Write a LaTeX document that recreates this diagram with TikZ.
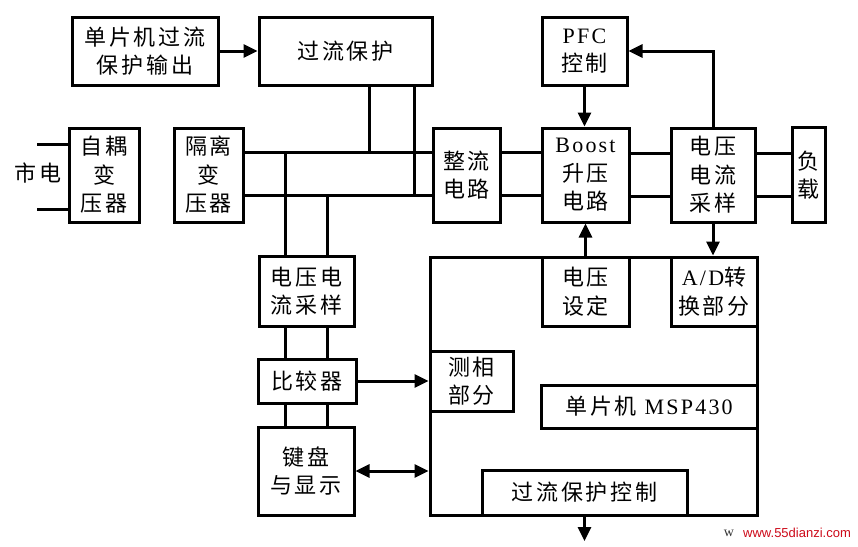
\documentclass[tikz,border=0pt]{standalone}
\usepackage{fontspec}
\setmainfont{Liberation Serif}
\newfontfamily\cjk[LetterSpace=13]{Noto Sans CJK SC}
\newfontfamily\lat[LetterSpace=10]{Liberation Serif}
\newfontfamily\wm{Liberation Sans}
\usetikzlibrary{arrows.meta}
\definecolor{wmred}{RGB}{205,10,25}
\begin{document}
\begin{tikzpicture}[x=1pt,y=-1pt,
  blk/.style={draw, line width=3pt, inner sep=0pt, align=center, font=\cjk\fontsize{22}{28.5}\selectfont},
  wire/.style={line width=3pt},
  arr/.style={wire, -{Triangle[length=14pt,width=13pt]}},
  darr/.style={wire, {Triangle[length=14pt,width=13pt]}-{Triangle[length=14pt,width=13pt]}},
  lbl/.style={inner sep=0pt, align=center, font=\cjk\fontsize{22}{28.5}\selectfont},
]
\useasboundingbox (0,0) rectangle (858,546);
\fill[white] (0,0) rectangle (858,546);

% boxes
\node[blk, minimum width=146pt, minimum height=68pt] (op) at (145,51) {单片机过流\\保护输出};
\node[blk, minimum width=173pt, minimum height=68pt] (oc) at (345.5,51) {过流保护};
\node[blk, minimum width=70pt, minimum height=94pt] (at) at (104,175) {自耦\\变\\压器};
\node[blk, minimum width=69pt, minimum height=94pt] (iso) at (208.5,175) {隔离\\变\\压器};
\node[blk, minimum width=67pt, minimum height=94pt] (rect) at (466.5,175) {整流\\电路};
\node[blk, minimum width=87pt, minimum height=94pt] (boost) at (585.5,175) {{\lat Boost}\\升压\\电路};
\node[blk, minimum width=85pt, minimum height=68pt] (pfc) at (584.5,51) {{\lat PFC}\\控制};
\node[blk, minimum width=84pt, minimum height=94pt] (vs2) at (713,175) {电压\\电流\\采样};
\node[blk, minimum width=33pt, minimum height=95pt] (load) at (808.5,175) {负\\载};
\node[blk, minimum width=95pt, minimum height=70pt] (vs1) at (306.5,291) {电压电\\流采样};
\node[blk, minimum width=98pt, minimum height=44pt] (cmp) at (307,381) {比较器};
\node[blk, minimum width=96pt, minimum height=88pt] (kbd) at (306,471) {键盘\\与显示};
\node[blk, minimum width=327pt, minimum height=258pt] (mcu) at (593.5,386) {};
\node[blk, minimum width=83pt, minimum height=60pt] (phase) at (471.5,381) {测相\\部分};
\node[blk, minimum width=87pt, minimum height=69pt] (vset) at (585.5,291.5) {电压\\设定};
\node[blk, minimum width=86pt, minimum height=69pt] (ad) at (714,291.5) {{\lat A/D}转\\换部分};
\node[blk, minimum width=216pt, minimum height=43pt] (msp) at (649,406.5) {单片机 {\lat MSP430}};
\node[blk, minimum width=205pt, minimum height=45pt] (ocp) at (584.5,492.5) {过流保护控制};

\node[lbl] (city) at (38,173) {市电};

% helper coordinates
\coordinate (r1) at (0,152);
\coordinate (r2) at (0,195);
\coordinate (r3) at (0,153);
\coordinate (r4) at (0,196);
\coordinate (v1) at (369,0);
\coordinate (v2) at (414,0);
\coordinate (v3) at (285,0);
\coordinate (v4) at (327,0);
\coordinate (m1) at (37,144);
\coordinate (m2) at (37,209);
\coordinate (out) at (584,541);

% connectors
\draw[arr] (op.east) -- (oc.west);
\draw[wire] (m1) -- (m1 -| at.west);
\draw[wire] (m2) -- (m2 -| at.west);
\draw[wire] (iso.east |- r1) -- (rect.west |- r1);
\draw[wire] (iso.east |- r2) -- (rect.west |- r2);
\draw[wire] (oc.south -| v1) -- (v1 |- r1);
\draw[wire] (oc.south -| v2) -- (v2 |- r2);
\draw[wire] (v3 |- r1) -- (vs1.north -| v3);
\draw[wire] (v4 |- r2) -- (vs1.north -| v4);
\draw[wire] (vs1.south -| v3) -- (cmp.north -| v3);
\draw[wire] (vs1.south -| v4) -- (cmp.north -| v4);
\draw[wire] (cmp.south -| v3) -- (kbd.north -| v3);
\draw[wire] (cmp.south -| v4) -- (kbd.north -| v4);
\draw[wire] (rect.east |- r1) -- (boost.west |- r1);
\draw[wire] (rect.east |- r2) -- (boost.west |- r2);
\draw[wire] (boost.east |- r3) -- (vs2.west |- r3);
\draw[wire] (boost.east |- r4) -- (vs2.west |- r4);
\draw[wire] (vs2.east |- r3) -- (load.west |- r3);
\draw[wire] (vs2.east |- r4) -- (load.west |- r4);
\draw[arr] (pfc.south) -- (pfc.south |- boost.north);
\draw[arr] (vs2.north) |- (pfc.east);
\draw[arr] (vs2.south) -- (vs2.south |- ad.north);
\draw[arr] (vset.north) -- (vset.north |- boost.south);
\draw[arr] (cmp.east) -- (cmp.east -| mcu.west);
\draw[darr] (kbd.east) -- (kbd.east -| mcu.west);
\draw[arr] (ocp.south) -- (ocp.south |- out);

% watermark
\node[font=\rmfamily\fontsize{14}{15}\selectfont, text=black!80, inner sep=0pt] (w1) at (729,533) {w};
\node[font=\wm\fontsize{13}{14}\selectfont, text=wmred, inner sep=0pt, anchor=west] (w2) at (743,533) {www.55dianzi.com};
\end{tikzpicture}
\end{document}
